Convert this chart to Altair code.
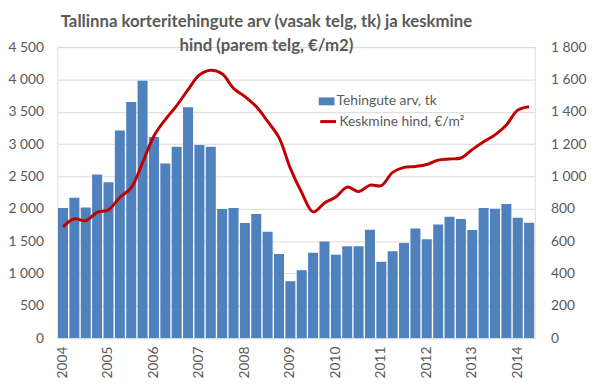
import altair as alt
import pandas as pd

years = [str(y) for y in range(2004, 2015)]
qnames = ["Q1", "Q2", "Q3", "Q4"]
quarters = [f"{y} {q}" for y in years for q in qnames][:42]

counts = [2010, 2170, 2020, 2530, 2410, 3210, 3650, 3980, 3110, 2700, 2960, 3570,
          2985, 2960, 1995, 2010, 1780, 1920, 1645, 1300, 880, 1050, 1320, 1495,
          1290, 1420, 1420, 1675, 1180, 1345, 1470, 1695, 1530, 1755, 1875, 1840,
          1670, 2010, 2000, 2075, 1860, 1785]
prices = [688, 738, 726, 778, 793, 870, 930, 1085, 1250, 1352, 1438, 1537,
          1628, 1657, 1635, 1545, 1494, 1432, 1340, 1240, 1050, 900, 781, 836,
          873, 934, 906, 946, 943, 1025, 1056, 1062, 1074, 1101, 1108, 1114,
          1166, 1214, 1257, 1318, 1410, 1431]

title_lines = ["Tallinna korteritehingute arv (vasak telg, tk) ja keskmine",
               "hind (parem telg, €/m2)"]
bar_label = "Tehingute arv, tk"
line_label = "Keskmine hind, €/m²"
year_ticks = [f"{y} Q1" for y in years]

df = pd.DataFrame({"q": quarters, "count": counts, "price": prices})

FONT = "Lato"
GREY = "#595959"

x = alt.X("q:O", sort=quarters,
          scale=alt.Scale(type="band", paddingInner=0.12, paddingOuter=0.06),
          axis=alt.Axis(title=None, values=year_ticks,
                        labelExpr="substring(datum.value, 0, 4)",
                        labelAngle=270, labelAlign="right", labelBaseline="middle",
                        labelPadding=8, ticks=False, domainColor="#d9d9d9",
                        labelFont=FONT, labelFontSize=14, labelColor=GREY))

bars = alt.Chart(df).mark_bar(color="#4F81BD").encode(
    x=x,
    y=alt.Y("count:Q", scale=alt.Scale(domain=[0, 4500]),
            axis=alt.Axis(title=None, values=list(range(0, 4501, 500)),
                          labelExpr="replace(format(datum.value, ','), ',', ' ')",
                          grid=True, gridColor="#d9d9d9", domain=False, ticks=False,
                          labelPadding=14, labelFont=FONT, labelFontSize=14,
                          labelColor=GREY)),
    fill=alt.Fill("lab:N", scale=alt.Scale(domain=[bar_label], range=["#4F81BD"]),
                  legend=alt.Legend(title=None, orient="none", legendX=265, legendY=47,
                                    padding=0, symbolType="M-1,-0.5H1V0.5H-1Z",
                                    symbolSize=256, symbolStrokeWidth=0,
                                    labelFont=FONT, labelFontSize=14, labelColor=GREY,
                                    labelOffset=2)),
).transform_calculate(lab=f"'{bar_label}'")

line = alt.Chart(df).mark_line(strokeWidth=3, interpolate="catmull-rom").encode(
    x=alt.X("q:O", sort=quarters),
    y=alt.Y("price:Q", scale=alt.Scale(domain=[0, 1800]),
            axis=alt.Axis(title=None, orient="right", values=list(range(0, 1801, 200)),
                          labelExpr="replace(format(datum.value, ','), ',', ' ')",
                          grid=False, domain=False, ticks=False, labelPadding=16,
                          labelFont=FONT, labelFontSize=14, labelColor=GREY)),
    stroke=alt.Stroke("lab:N", scale=alt.Scale(domain=[line_label], range=["#C00000"]),
                      legend=alt.Legend(title=None, orient="none", legendX=265, legendY=66,
                                        padding=0, symbolType="stroke", symbolSize=256,
                                        symbolStrokeWidth=3,
                                        labelFont=FONT, labelFontSize=14, labelColor=GREY,
                                        labelOffset=2)),
).transform_calculate(lab=f"'{line_label}'")

chart = alt.layer(bars, line).resolve_scale(y="independent").properties(
    width=484, height=295,
    autosize=alt.AutoSizeParams(type="none"),
    padding={"left": 50, "top": 37, "right": 58, "bottom": 52},
    title=alt.TitleParams(text=title_lines, font=FONT, fontSize=17, fontWeight="bold",
                          color=GREY, anchor="middle", align="center", dx=-30, offset=-15,
                          frame="group", lineHeight=24),
).configure_view(stroke=None).configure(background="white")

chart.save("out.html", embed_options={"renderer": "svg", "actions": False})
